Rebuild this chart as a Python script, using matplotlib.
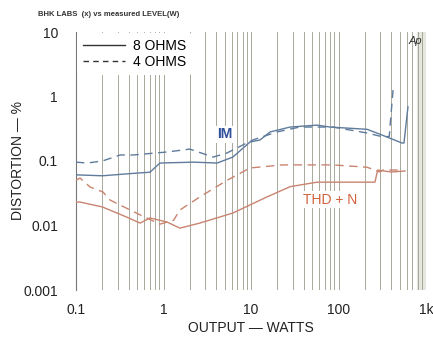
import matplotlib.pyplot as plt
import numpy as np

# IM distortion, 8 ohms (solid) and 4 ohms (dashed)
im8_w = [0.1, 0.2, 0.5, 0.7, 0.91, 2.2, 4.1, 6.2, 9.75, 12.7, 16.5, 28, 57, 80, 212, 298, 532, 560, 622]
im8_pct = [0.061, 0.059, 0.065, 0.067, 0.093, 0.096, 0.093, 0.115, 0.197, 0.212, 0.282, 0.336, 0.36, 0.336, 0.31, 0.26, 0.19, 0.19, 0.69]
im4_w = [0.1, 0.134, 0.2, 0.32, 0.45, 1.1, 2.0, 3.7, 5.3, 10.5, 19.8, 36, 86, 212, 323, 380, 420]
im4_pct = [0.096, 0.093, 0.10, 0.124, 0.124, 0.138, 0.153, 0.115, 0.133, 0.212, 0.282, 0.336, 0.336, 0.272, 0.236, 0.24, 1.26]

# THD+N, 8 ohms (solid) and 4 ohms (dashed)
thd8_w = [0.1, 0.111, 0.2, 0.38, 0.54, 0.7, 1.1, 1.54, 2.6, 6.2, 15.2, 28, 57, 212, 261, 280, 400, 576]
thd8_pct = [0.023, 0.0231, 0.0194, 0.0135, 0.0109, 0.0131, 0.0113, 0.0091, 0.0109, 0.0156, 0.0277, 0.040, 0.047, 0.047, 0.047, 0.0724, 0.0675, 0.07]
thd4_w = [0.1, 0.111, 0.145, 0.204, 0.245, 0.54, 0.91, 1.3, 1.54, 2.6, 5.3, 9.75, 23, 86, 212, 298, 323, 505]
thd4_pct = [0.05, 0.0545, 0.0395, 0.033, 0.0248, 0.0146, 0.0105, 0.012, 0.0174, 0.0277, 0.05, 0.078, 0.087, 0.087, 0.08, 0.0675, 0.0724, 0.0724]

y_ticks = [10, 1, 0.1, 0.01, 0.001]
y_labels = ["10", "1", "0.1", "0.01", "0.001"]
x_ticks = [0.1, 1, 10, 100, 1000]
x_labels = ["0.1", "1", "10", "100", "1k"]

plt.rcParams["font.family"] = ["Liberation Sans", "DejaVu Sans"]

fig = plt.figure(figsize=(4.33, 3.48), dpi=100)
ax = fig.add_axes([76 / 433, 1 - 290 / 348, 350 / 433, 258 / 348])
ax.set_xscale("log")
ax.set_yscale("log")
ax.set_xlim(0.1, 1000)
ax.set_ylim(0.001, 10)

# vertical grid at every minor/major log position, like the chart paper
grid_x = [m * 10.0 ** d for d in range(-1, 3) for m in range(1, 10)] + [1000]
for gx in grid_x:
    ax.axvline(gx, color="#9a9b8a", lw=0.6, zorder=1)
ax.axvspan(780, 1000, color="#e6e8df", zorder=0)

im_col = "#5f7b9c"
thd_col = "#c98470"
ax.plot(im8_w, im8_pct, color=im_col, lw=1.0, zorder=3, label="8 OHMS")
ax.plot(im4_w, im4_pct, color=im_col, lw=1.0, ls=(0, (6, 4)), zorder=3, label="4 OHMS")
ax.plot(thd8_w, thd8_pct, color=thd_col, lw=1.0, zorder=3)
ax.plot(thd4_w, thd4_pct, color=thd_col, lw=1.0, ls=(0, (6, 4)), zorder=3)

# legend drawn in black like the original print
leg_lines = [plt.Line2D([], [], color="#333333", lw=1.0),
             plt.Line2D([], [], color="#333333", lw=1.0, ls=(0, (4, 3)))]
leg = ax.legend(leg_lines, ["8 OHMS", "4 OHMS"], loc="upper left", frameon=True,
                framealpha=1, edgecolor="none", facecolor="white", fontsize=10,
                handlelength=3.0, borderaxespad=0.1, labelspacing=0.15, handletextpad=0.6)
leg.set_zorder(5)

ax.text(5.0, 0.26, "IM", color="#2d4f99", fontsize=10, fontweight="bold", ha="center",
        va="center", zorder=4, bbox=dict(facecolor="white", edgecolor="none", pad=1))
ax.text(80, 0.025, "THD + N", color="#d2623c", fontsize=10, ha="center", va="center",
        zorder=4, bbox=dict(facecolor="white", edgecolor="none", pad=1))
ax.text(0.97, 0.985, "Ap", transform=ax.transAxes, fontsize=8, style="italic",
        ha="center", va="top", color="#333333", zorder=4)

ax.set_xticks(x_ticks, x_labels)
ax.set_yticks(y_ticks, y_labels)
ax.minorticks_off()
ax.tick_params(length=0, labelsize=10, colors="#222222")
ax.tick_params(axis="x", pad=9)
ax.tick_params(axis="y", pad=13)
for s in ["top", "right", "bottom"]:
    ax.spines[s].set_visible(False)
ax.spines["left"].set_color("#777777")
ax.spines["left"].set_linewidth(0.8)

ax.set_xlabel("OUTPUT — WATTS", fontsize=10, labelpad=3, color="#222222")
ax.set_ylabel("DISTORTION — %", fontsize=10, labelpad=-1, color="#222222")

fig.text(38 / 433, 1 - 15 / 348, "BHK LABS  (x) vs measured LEVEL(W)", fontsize=5.5,
         fontweight="bold", color="#333333", va="center")

fig.savefig("out.png", dpi=100)
